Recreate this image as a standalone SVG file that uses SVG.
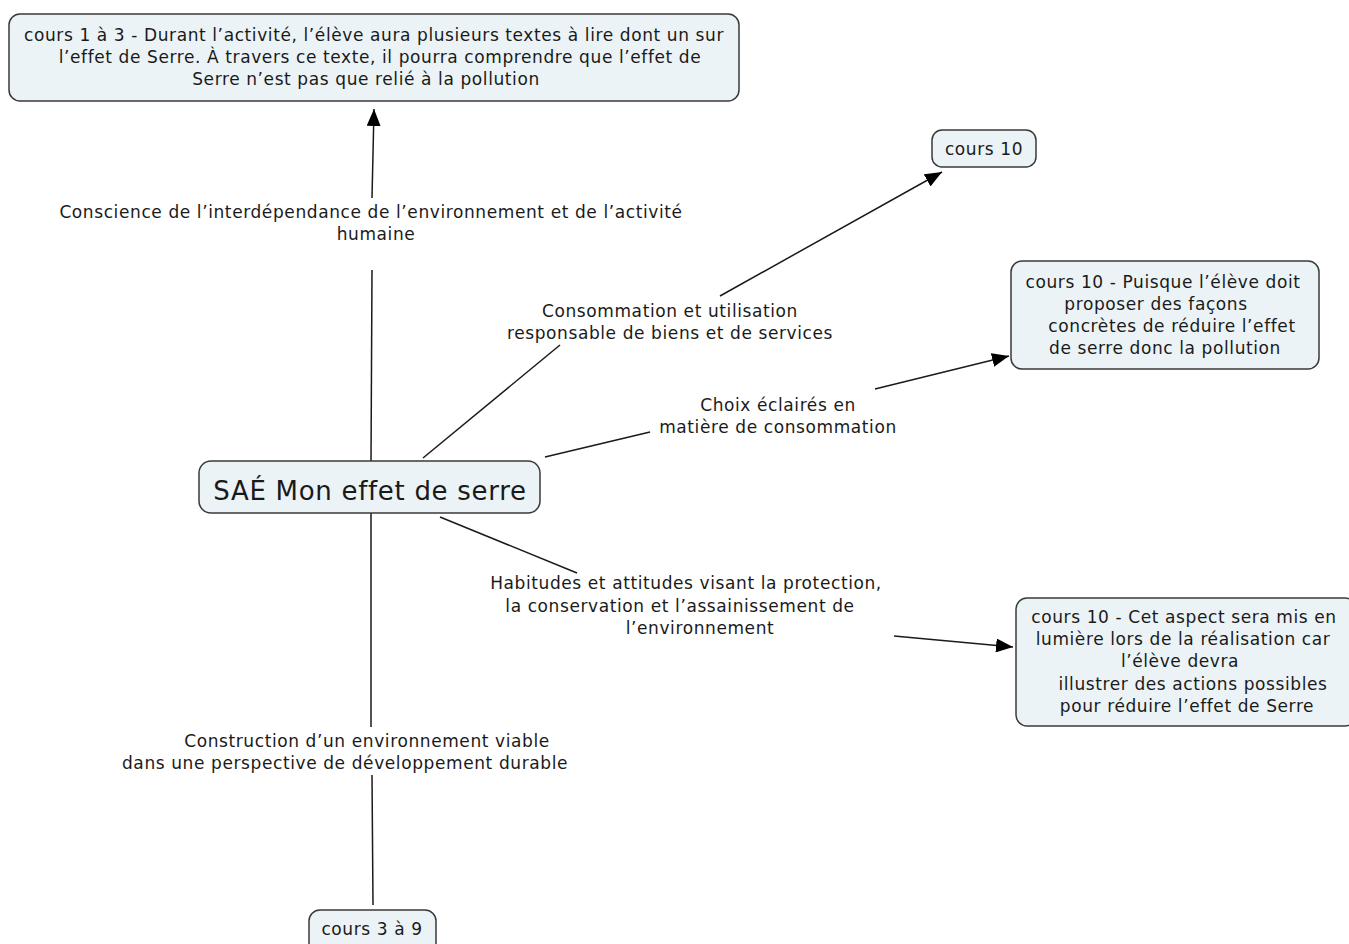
<svg xmlns="http://www.w3.org/2000/svg" width="1349" height="944" viewBox="0 0 1349 944">
<style>
.box{fill:#ebf3f6;stroke:#3a3a3a;stroke-width:1.5}
text{font-family:"DejaVu Sans",Verdana,sans-serif;font-size:17px;letter-spacing:0.6px;fill:#1a1a1a}
.c{text-anchor:middle}
.ln{stroke:#1a1a1a;stroke-width:1.5;fill:none}
</style>
<defs>
<marker id="ah" viewBox="0 0 17 14" refX="17" refY="7" markerWidth="17" markerHeight="14" markerUnits="userSpaceOnUse" orient="auto">
<path d="M0,0 L17,7 L0,14 z" fill="#000"/>
</marker>
</defs>
<rect width="1349" height="944" fill="#fff"/>
<g id="connectors">
<line class="ln" x1="371" y1="461" x2="372" y2="270"/>
<line class="ln" x1="372" y1="198" x2="374" y2="109" marker-end="url(#ah)"/>
<line class="ln" x1="423" y1="458" x2="560" y2="345"/>
<line class="ln" x1="720" y1="296" x2="942" y2="172" marker-end="url(#ah)"/>
<line class="ln" x1="545" y1="457" x2="650" y2="432"/>
<line class="ln" x1="875" y1="389" x2="1009" y2="356" marker-end="url(#ah)"/>
<line class="ln" x1="440" y1="517" x2="577" y2="573"/>
<line class="ln" x1="894" y1="636" x2="1013" y2="647" marker-end="url(#ah)"/>
<line class="ln" x1="371" y1="513" x2="371" y2="727"/>
<line class="ln" x1="372" y1="775" x2="373" y2="905"/>
<text class="c" x="371" y="218">Conscience de l’interdépendance de l’environnement et de l’activité</text>
<text class="c" x="376" y="240">humaine</text>
<text class="c" x="670" y="317">Consommation et utilisation</text>
<text class="c" x="670" y="339">responsable de biens et de services</text>
<text class="c" x="778" y="411">Choix éclairés en</text>
<text class="c" x="778" y="433">matière de consommation</text>
<text class="c" x="686" y="589">Habitudes et attitudes visant la protection,</text>
<text class="c" x="680" y="612">la conservation et l’assainissement de</text>
<text class="c" x="700" y="634">l’environnement</text>
<text class="c" x="367" y="747">Construction d’un environnement viable</text>
<text class="c" x="345" y="769">dans une perspective de développement durable</text>
</g>
<g id="n-top">
<rect class="box" x="9" y="14" width="730" height="87" rx="11"/>
<text class="c" x="374" y="41">cours 1 à 3 - Durant l’activité, l’élève aura plusieurs textes à lire dont un sur</text>
<text class="c" x="380" y="63">l’effet de Serre. À travers ce texte, il pourra comprendre que l’effet de</text>
<text class="c" x="366" y="85">Serre n’est pas que relié à la pollution</text>
</g>
<g id="n-cours10">
<rect class="box" x="932" y="130" width="104" height="37" rx="10"/>
<text class="c" x="984" y="155">cours 10</text>
</g>
<g id="n-puisque">
<rect class="box" x="1011" y="261" width="308" height="108" rx="11"/>
<text class="c" x="1163" y="288">cours 10 - Puisque l’élève doit</text>
<text class="c" x="1156" y="310">proposer des façons</text>
<text class="c" x="1172" y="332">concrètes de réduire l’effet</text>
<text class="c" x="1165" y="354">de serre donc la pollution</text>
</g>
<g id="n-main">
<rect class="box" x="199" y="461" width="341" height="52" rx="12"/>
<text class="c" x="370" y="500" style="font-size:26px;letter-spacing:0.7px">SAÉ Mon effet de serre</text>
</g>
<g id="n-cet">
<rect class="box" x="1016" y="598" width="340" height="128" rx="11"/>
<text class="c" x="1184" y="623">cours 10 - Cet aspect sera mis en</text>
<text class="c" x="1183" y="645">lumière lors de la réalisation car</text>
<text class="c" x="1180" y="667">l’élève devra</text>
<text class="c" x="1193" y="690">illustrer des actions possibles</text>
<text class="c" x="1187" y="712">pour réduire l’effet de Serre</text>
</g>
<g id="n-cours39">
<rect class="box" x="309" y="910" width="127" height="45" rx="11"/>
<text class="c" x="372" y="935">cours 3 à 9</text>
</g>
</svg>
